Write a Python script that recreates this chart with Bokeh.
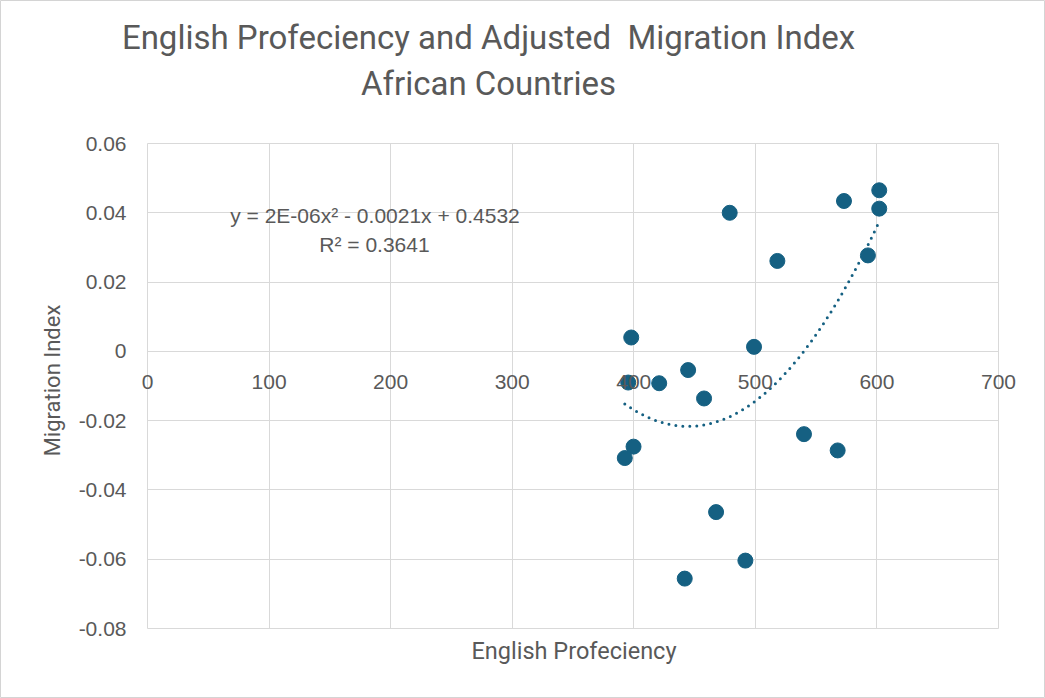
import math
import numpy as np
from bokeh.plotting import figure
from bokeh.models import Range1d, FixedTicker, NumeralTickFormatter, Label, ColumnDataSource
from bokeh.embed import file_html
from bokeh.resources import INLINE

# ---- data ----
english = [601.9, 601.9, 572.9, 478.9, 518.1, 592.6, 397.9, 498.9, 444.7, 395.4,
           420.9, 457.8, 540.0, 567.7, 399.8, 392.6, 467.7, 491.8, 441.9]
migration = [0.0465, 0.0412, 0.0434, 0.0400, 0.0261, 0.0277, 0.0040, 0.0013, -0.0054, -0.0090,
             -0.0092, -0.0136, -0.0239, -0.0286, -0.0275, -0.0308, -0.0464, -0.0604, -0.0656]
x_ticks = [0, 100, 200, 300, 400, 500, 600, 700]
y_ticks = [-0.08, -0.06, -0.04, -0.02, 0, 0.02, 0.04, 0.06]
title_lines = ["English Profeciency and Adjusted \u00a0Migration Index", "African Countries"]
x_title = "English Profeciency"
y_title = "Migration Index"
eq_lines = ["y = 2E-06x\u00b2 - 0.0021x + 0.4532", "R\u00b2 = 0.3641"]

BLUE = "#156082"
GRID = "#d9d9d9"
TXT = "#595959"
NARROW = "Roboto"
SANS = "Liberation Sans"

# ---- layout: plot area of the reference in pixels ----
W, H = 1045, 698
PL, PR, PT, PB = 147, 998, 143, 628          # plot-area edges (px)
XMIN, XMAX, YMIN, YMAX = x_ticks[0], x_ticks[-1], y_ticks[0], y_ticks[-1]
kx = (PR - PL) / (XMAX - XMIN)
ky = (PB - PT) / (YMAX - YMIN)


def dx(px):
    return XMIN + (px - PL) / kx


def dy(py):
    return YMAX - (py - PT) / ky


p = figure(width=W, height=H, output_backend="svg", toolbar_location=None,
           x_range=Range1d(dx(0), dx(W)), y_range=Range1d(dy(H), dy(0)),
           min_border=0)
p.background_fill_color = "white"
p.border_fill_color = "white"
p.outline_line_color = "#d4d4d4"

# grid limited to the plot area
p.xgrid.ticker = FixedTicker(ticks=x_ticks)
p.ygrid.ticker = FixedTicker(ticks=y_ticks)
for g in (p.xgrid, p.ygrid):
    g.grid_line_color = GRID
    g.grid_line_width = 1
try:
    p.xgrid.cross_bounds = (YMIN, YMAX)
    p.ygrid.cross_bounds = (XMIN, XMAX)
except AttributeError:
    p.xgrid.visible = False
    p.ygrid.visible = False
    p.segment(x0=x_ticks, x1=x_ticks, y0=[YMIN] * len(x_ticks), y1=[YMAX] * len(x_ticks),
              line_color=GRID, line_width=1)
    p.segment(x0=[XMIN] * len(y_ticks), x1=[XMAX] * len(y_ticks), y0=y_ticks, y1=y_ticks,
              line_color=GRID, line_width=1)

# x axis crossing at y = 0
xa = p.xaxis[0]
xa.ticker = FixedTicker(ticks=x_ticks)
xa.fixed_location = 0
xa.axis_line_color = None
xa.major_tick_line_color = None
xa.minor_tick_line_color = None
xa.major_label_standoff = 18
xa.major_label_text_font = SANS
xa.major_label_text_font_size = "21px"
xa.major_label_text_color = TXT

# y axis at x = 0
ya = p.yaxis[0]
ya.ticker = FixedTicker(ticks=y_ticks)
ya.formatter = NumeralTickFormatter(format="0.[00]")
ya.fixed_location = 0
ya.axis_line_color = None
ya.major_tick_line_color = None
ya.minor_tick_line_color = None
ya.major_label_standoff = 15
ya.major_label_text_font = SANS
ya.major_label_text_font_size = "21px"
ya.major_label_text_color = TXT

# trendline (2nd order polynomial fit of the data)
coef = np.polyfit(english, migration, 2)
xs = np.linspace(min(english), max(english), 200)
ys = np.polyval(coef, xs)
p.line(xs, ys, line_color=BLUE, line_width=3, line_dash="0 7", line_cap="round")

# points
src = ColumnDataSource(dict(x=english, y=migration))
p.scatter("x", "y", source=src, size=15, fill_color=BLUE, line_color=BLUE)

# equation text
p.add_layout(Label(x=dx(374.5), y=dy(215), text=eq_lines[0], text_align="center",
                   text_baseline="middle", text_font=SANS, text_font_size="21px", text_color=TXT))
p.add_layout(Label(x=dx(374), y=dy(244), text=eq_lines[1], text_align="center",
                   text_baseline="middle", text_font=SANS, text_font_size="21px", text_color=TXT))

# chart title
p.add_layout(Label(x=dx(488), y=dy(37), text=title_lines[0], text_align="center",
                   text_baseline="alphabetic", text_font=NARROW, text_font_size="33px",
                   text_color=TXT))
p.add_layout(Label(x=dx(488), y=dy(83), text=title_lines[1], text_align="center",
                   text_baseline="alphabetic", text_font=NARROW, text_font_size="33px",
                   text_color=TXT))

# axis titles
p.add_layout(Label(x=dx(573.5), y=dy(650), text=x_title, text_align="center",
                   text_baseline="middle", text_font=NARROW, text_font_size="23.5px",
                   text_color=TXT))
p.add_layout(Label(x=dx(52), y=dy(380), text=y_title, text_align="center",
                   text_baseline="middle", angle=math.pi / 2, text_font=NARROW,
                   text_font_size="22px", text_color=TXT))

open("out.html", "w").write(file_html(p, INLINE))
